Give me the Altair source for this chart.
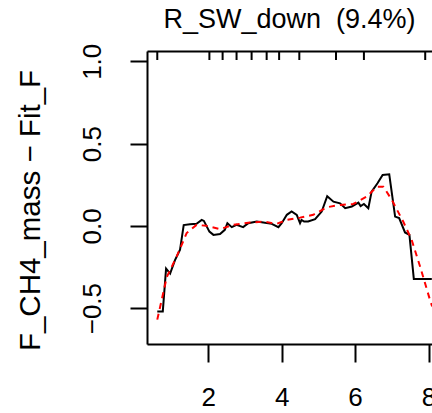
import altair as alt
import pandas as pd

# ---- data ----
black_x = [0.61, 0.76, 0.85, 0.96, 1.09, 1.23, 1.33, 1.50, 1.68, 1.82, 1.88, 2.03, 2.14,
           2.32, 2.45, 2.52, 2.64, 2.77, 2.95, 3.09, 3.32, 3.50, 3.73, 3.91, 4.00, 4.14,
           4.27, 4.41, 4.50, 4.54, 4.61, 4.72, 4.91, 5.09, 5.24, 5.41, 5.59, 5.73, 5.91,
           6.09, 6.15, 6.24, 6.36, 6.45, 6.61, 6.75, 6.93, 7.09, 7.20, 7.36, 7.48, 7.60, 8.09]
black_y = [-0.52, -0.52, -0.26, -0.29, -0.21, -0.145, 0.005, 0.01, 0.013, 0.036, 0.03, -0.035,
           -0.055, -0.05, -0.024, 0.016, -0.008, 0.006, -0.008, 0.016, 0.026, 0.02, 0.012,
           -0.008, 0.016, 0.067, 0.087, 0.067, 0.016, 0.036, 0.026, 0.026, 0.04, 0.087, 0.18,
           0.147, 0.137, 0.107, 0.117, 0.141, 0.12, 0.133, 0.107, 0.208, 0.259, 0.309, 0.313,
           0.056, 0.047, -0.04, -0.055, -0.323, -0.323]

red_x = [0.61, 0.87, 1.14, 1.41, 1.68, 1.95, 2.32, 2.68, 3.14, 3.50, 3.86, 4.14, 4.50,
         4.86, 5.23, 5.59, 5.95, 6.32, 6.59, 6.77, 7.00, 7.31, 7.54, 7.77, 8.04, 8.10]
red_y = [-0.57, -0.31, -0.186, -0.044, 0.006, 0.0, -0.02, 0.006, 0.02, 0.026, 0.012, 0.036,
         0.05, 0.067, 0.113, 0.127, 0.133, 0.178, 0.238, 0.238, 0.158, 0.026, -0.085, -0.247,
         -0.45, -0.49]

rug_x = [0.61, 2.03, 2.39, 2.77, 3.18, 3.59, 3.93, 4.48, 5.48, 6.24, 7.91]

x_ticks = [2, 4, 6, 8]
y_ticks = [-0.5, 0.0, 0.5, 1.0]

title_text = "R_SW_down \u00a0(9.4%)"
y_title = "F_CH4_mass \u2212 Fit_F"

black = pd.DataFrame({"x": black_x, "y": black_y})
red = pd.DataFrame({"x": red_x, "y": red_y})
rug = pd.DataFrame({"x": rug_x})

FONT = "Liberation Sans"
xs = alt.Scale(domain=[0.33, 8.095], nice=False, zero=False)
ys = alt.Scale(domain=[-0.718, 1.0625], nice=False, zero=False)

x_axis = alt.Axis(
    orient="bottom", values=x_ticks, format="d", title=None, grid=False,
    tickSize=18, tickWidth=2, tickColor="black", domainColor="black", domainWidth=2,
    labelFont=FONT, labelFontSize=26, labelColor="black", labelPadding=22,
    labelBaseline="top", labelAlign="center", labelFlush=False, labelOverlap=False,
)
top_axis = alt.Axis(
    orient="top", title=None, grid=False, ticks=False, labels=False,
    domainColor="black", domainWidth=2,
)
y_axis = alt.Axis(
    orient="left", values=y_ticks, format=".1f", grid=False,
    tickSize=17, tickWidth=2, tickColor="black", domainColor="black", domainWidth=2,
    labelFont=FONT, labelFontSize=26, labelColor="black", labelAngle=270,
    labelAlign="center", labelBaseline="bottom", labelPadding=25, labelFlush=False,
    labelOverlap=False,
    title=y_title, titleFont=FONT, titleFontSize=29.5, titleFontWeight="normal",
    titleColor="black", titleAngle=270, titleAlign="center", titleBaseline="alphabetic",
    titleX=-108, titleY=159,
)

line_black = alt.Chart(black).mark_line(color="black", strokeWidth=2, clip=True).encode(
    x=alt.X("x:Q", scale=xs, axis=x_axis),
    y=alt.Y("y:Q", scale=ys, axis=y_axis),
)
line_red = alt.Chart(red).mark_line(
    color="#ff0000", strokeWidth=2, strokeDash=[6, 5], clip=True
).encode(
    x=alt.X("x:Q", scale=xs, axis=None),
    y=alt.Y("y:Q", scale=ys),
)
rug_marks = alt.Chart(rug).mark_rule(color="black", strokeWidth=2).encode(
    x=alt.X("x:Q", scale=xs, axis=top_axis),
    y=alt.value(0),
    y2=alt.value(9),
)

chart = (
    alt.layer(line_black, line_red, rug_marks)
    .resolve_axis(x="independent")
    .properties(
        width=285, height=293,
        autosize=alt.AutoSizeParams(type="none"),
        padding={"left": 147, "top": 51, "right": 0, "bottom": 69},
        title=alt.TitleParams(
            title_text, font=FONT, fontSize=27, fontWeight="normal", color="black",
            anchor="middle", frame="group", offset=-12, baseline="alphabetic",
        ),
    )
    .configure_view(stroke=None)
    .configure(background="white")
)

chart.save("out.html", embed_options={"renderer": "svg", "actions": False})
